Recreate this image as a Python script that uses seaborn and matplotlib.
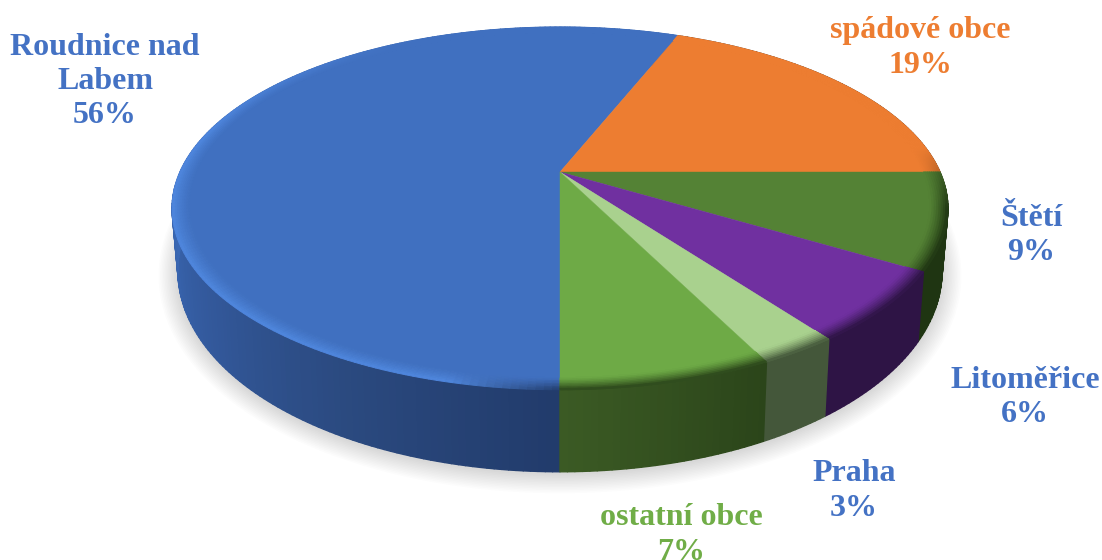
import numpy as np
import matplotlib
matplotlib.use('Agg')
import matplotlib.pyplot as plt
from matplotlib.collections import PolyCollection
import seaborn as sns

# values
labels = ['Roudnice nad\nLabem', 'spádové obce', 'Štětí', 'Litoměřice', 'Praha', 'ostatní obce']
shares = [56, 19, 8.6, 6.3, 2.75, 7.35]
top_colors = ['#4070c0', '#ed7d31', '#548235', '#7030a0', '#a9d18e', '#6eaa46']
text_colors = ['#4472c4', '#ed7d31', '#4472c4', '#4472c4', '#4472c4', '#70ad47']
wall_colors = [['#223c6c', '#2b4a80', '#33599c', '#3a68b4', '#3a68b4'],
               ['#7a3f18', '#7a3f18'],
               ['#1f3512', '#1f3512'],
               ['#2e1445', '#2e1445'],
               ['#44573a', '#44573a'],
               ['#2b451a', '#3b5a24']]
label_pos = [(105, 81.5), (920, 48), (1031, 235.5), (1025, 397.5), (854, 491), (681, 535)]

sns.set_theme(style='white')
plt.rcParams['font.family'] = ['Liberation Serif', 'DejaVu Serif']

cx, cy, B, A, k = 560, 172, 380, 174, 0.201


def project(r, theta):
    u, v = r * np.sin(theta), r * np.cos(theta)
    w = 1 + k * v
    return cx + B * u / w, cy - A * v / w


def project_bottom(theta):
    x, y = project(1, theta)
    return cx + (x - cx) * 0.985, y + 57 - 25 * np.cos(theta)


fig, ax = plt.subplots(figsize=(11.02, 5.6), dpi=100)
fig.subplots_adjust(0, 0, 1, 1)
ax.set_xlim(0, 1102)
ax.set_ylim(560, 0)
ax.axis('off')

# slice angles, clockwise from the top, first slice starts at the bottom
edges = np.pi + np.radians(np.cumsum([0] + shares) * 3.6)

# soft shadow under the disc
ring = np.linspace(0, 2 * np.pi, 300)
bx, by = project_bottom(ring)
for d in np.arange(1, 20, 1.5):
    ax.fill(cx + (bx - cx) * (1 + d / 375), 230 + (by - 230) * (1 + d / 235) + 2,
            color='black', alpha=0.012, lw=0, zorder=1)

# side wall
for i in range(len(shares)):
    n = max(int(shares[i] * 4), 12)
    th = np.linspace(edges[i], edges[i + 1], n + 1)
    if i == 0:
        # shading runs only over the visible part of the blue wall
        full = sns.blend_palette(wall_colors[i], 120)
        deg = np.degrees(th)
        pal = [full[int(np.clip((d - 180) / 110 * 119, 0, 119))] for d in deg[:-1]]
    else:
        pal = sns.blend_palette(wall_colors[i], n)
    x1, y1 = project(1, th)
    x2, y2 = project_bottom(th)
    polys = [[(x1[j], y1[j]), (x1[j + 1], y1[j + 1]), (x2[j + 1], y2[j + 1]), (x2[j], y2[j])]
             for j in range(n)]
    ax.add_collection(PolyCollection(polys, facecolors=pal, edgecolors=pal, linewidths=1.0, zorder=2))


def bevel_target(i, d):
    # colour the rim fades to and how strong, d is the angle in degrees
    d = d % 360
    if i == 0:
        dark = np.array(matplotlib.colors.to_rgb('#223c6c'))
        light = np.array(matplotlib.colors.to_rgb('#4f87de'))
        if d < 180:
            d += 360
        mix = np.clip((d - 180) / 14, 0, 1)
        strength = 1 - np.clip((d - 285) / 45, 0, 1)
        return dark + (light - dark) * mix, strength
    wall = np.array(matplotlib.colors.to_rgb(wall_colors[i][0]))
    return wall, np.clip((d - 82) / 20, 0, 1)


# top face with a narrow bevelled rim
rim = 0.955
for i in range(len(shares)):
    th = np.linspace(edges[i], edges[i + 1], 200)
    x, y = project(rim + 0.002, th)
    ax.fill(np.r_[cx, x], np.r_[cy, y], color=top_colors[i], lw=0.3, zorder=3)
    face = np.array(matplotlib.colors.to_rgb(top_colors[i]))
    radii = np.linspace(rim, 1, 9)
    polys, cols = [], []
    for a, b in zip(th[:-1], th[1:]):
        target, strength = bevel_target(i, np.degrees((a + b) / 2))
        for q in range(len(radii) - 1):
            t = (q + 0.5) / (len(radii) - 1)
            c = face + (target - face) * strength * t ** 1.3
            xa, ya = project(radii[q], np.array([a, b]))
            xb, yb = project(radii[q + 1], np.array([b, a]))
            polys.append(list(zip(np.r_[xa, xb], np.r_[ya, yb])))
            cols.append(tuple(c))
    ax.add_collection(PolyCollection(polys, facecolors=cols, edgecolors=cols, linewidths=0.7, zorder=4))

# labels
for i in range(len(labels)):
    ax.text(label_pos[i][0], label_pos[i][1], f'{labels[i]}\n{shares[i]:.0f}%', color=text_colors[i],
            fontsize=23, fontweight='bold', ha='center', va='center', linespacing=1.24, zorder=5)

fig.savefig('out.png', dpi=100)
